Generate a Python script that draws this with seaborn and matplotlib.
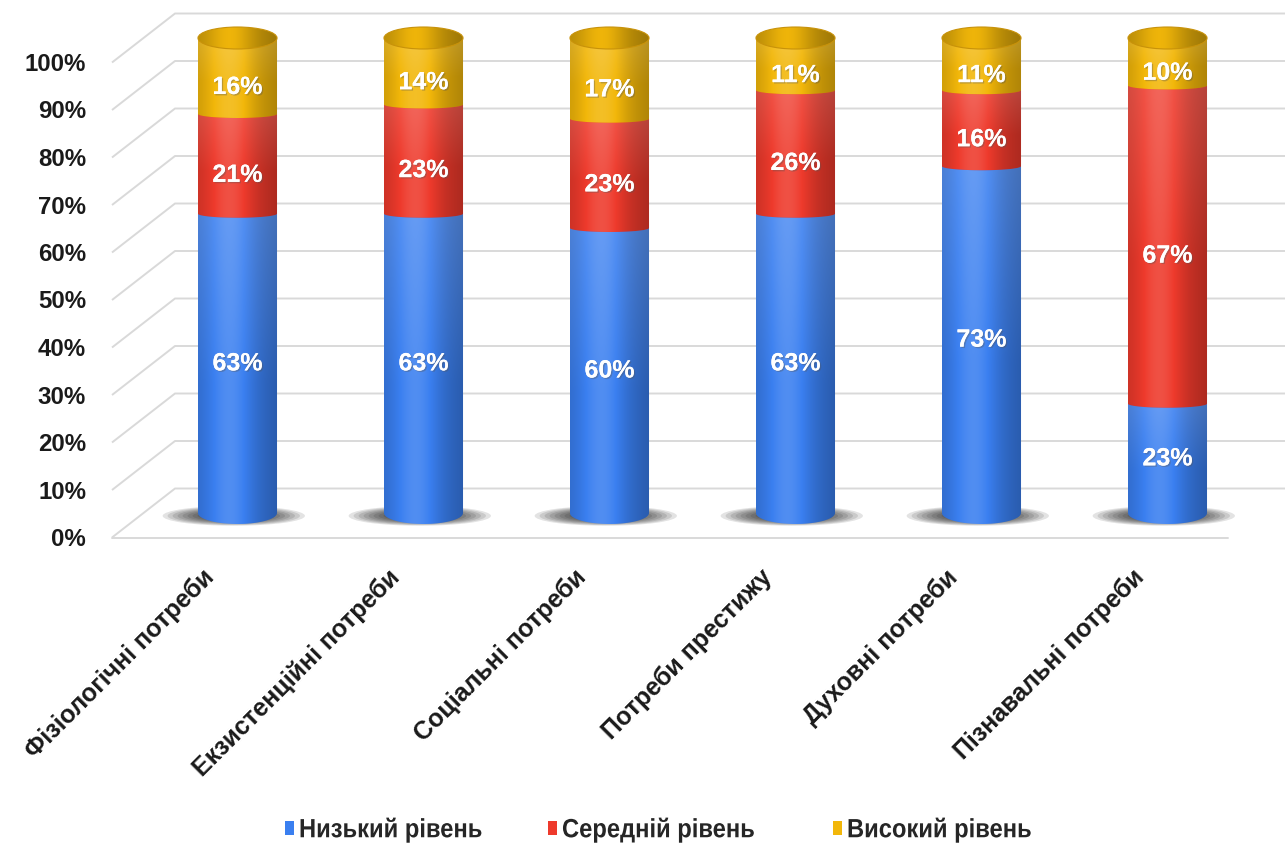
import numpy as np
import pandas as pd
import matplotlib
matplotlib.use("Agg")
import matplotlib.pyplot as plt
import seaborn as sns
from matplotlib.patches import PathPatch, Ellipse, Patch
from matplotlib.path import Path
from matplotlib.colors import to_rgb
from matplotlib.transforms import ScaledTranslation, Affine2D
import matplotlib.patheffects as pe

# ---- data -------------------------------------------------------------
categories = ["Фізіологічні потреби", "Екзистенційні потреби", "Соціальні потреби",
              "Потреби престижу", "Духовні потреби", "Пізнавальні потреби"]
low_level = [63, 63, 60, 63, 73, 23]
mid_level = [21, 23, 23, 26, 16, 67]
high_level = [16, 14, 17, 11, 11, 10]
series_names = ["Низький рівень", "Середній рівень", "Високий рівень"]
series_colors = ["#3a7ff0", "#ee3a2c", "#f2b70a"]
y_ticks = list(range(0, 101, 10))

sns.set_theme(style="white")
plt.rcParams["font.family"] = ["Liberation Sans", "DejaVu Sans"]

# ---- figure / axes layout (pixel based) ---------------------------------
W, H = 1285, 849
fig = plt.figure(figsize=(W / 100, H / 100), dpi=100)
px_left, px_right, px_top, px_bottom = 105, 1285, 0, 548
ax = fig.add_axes([px_left / W, 1 - px_bottom / H,
                   (px_right - px_left) / W, (px_bottom - px_top) / H])

x0_px, step_px = 237.5, 186.0      # first bar centre, bar spacing
base_px, unit_px = 513.0, 4.75     # pixel row of 0 %, pixels per 1 %
xlim = ((px_left - x0_px) / step_px, (px_right - x0_px) / step_px)
ylim = ((base_px - px_bottom) / unit_px, (base_px - px_top) / unit_px)

# 3-D depth of the floor / back wall
depth_x = 63 / step_px
depth_y = 49 / unit_px
half_dx, half_dy = depth_x / 2, depth_y / 2
front_left = (112 - x0_px) / step_px
front_right = (1228 - x0_px) / step_px
ry = 11 / unit_px                   # half height of the cap / base ellipses
ry_seam = 4 / unit_px               # curvature of the seams between segments

# ---- walls and floor ---------------------------------------------------
grid_col = "#d9d9d9"
for v in y_ticks:
    ax.plot([front_left, front_left + depth_x, xlim[1] + 1],
            [v - half_dy, v + half_dy, v + half_dy],
            color=grid_col, lw=1.4, zorder=0.5, solid_capstyle="butt")
ax.plot([front_left, front_right], [-half_dy, -half_dy],
        color=grid_col, lw=1.4, zorder=0.5)

# ---- stacked bars ------------------------------------------------------
df = pd.DataFrame({"category": categories, "low": low_level,
                   "mid": mid_level, "high": high_level})
df["c1"] = df["low"]
df["c2"] = df["low"] + df["mid"]
df["c3"] = df["c2"] + df["high"]
levels = ["c1", "c2", "c3"]
values = [low_level, mid_level, high_level]

level_patches = {}
for lev, col in zip(reversed(levels), reversed(series_colors)):
    n0 = len(ax.patches)
    sns.barplot(data=df, x="category", y=lev, order=categories, color=col,
                saturation=1, width=0.425, errorbar=None, edgecolor="none",
                ax=ax, zorder=1)
    level_patches[lev] = list(ax.patches[n0:])


def shade_image(color, n=240, rows=60, gain=1.0, top_light=0.12):
    """Cylinder lighting: horizontal highlight plus a lighter upper part."""
    t = np.linspace(0, 1, n)
    f = 0.82 + 0.28 * np.exp(-((t - 0.4) / 0.3) ** 2) - 0.1 * t ** 3
    f = f * gain
    base = np.array(to_rgb(color))
    rgb = np.where(f[:, None] <= 1, base[None, :] * f[:, None],
                   base[None, :] + (1 - base[None, :]) * (f[:, None] - 1) * 1.2)
    rgb = np.clip(rgb, 0, 1)
    v = np.linspace(0, 1, rows)
    lift = top_light * np.clip((v - 0.45) / 0.55, 0, 1)
    img = rgb[None, :, :] + (1 - rgb[None, :, :]) * lift[:, None, None]
    return np.clip(img, 0, 1)


def lower_arc(cx, a, y, r, reverse=False):
    th = np.linspace(np.pi, 2 * np.pi, 60)
    if reverse:
        th = th[::-1]
    return np.column_stack([cx + a * np.cos(th), y + r * np.sin(th)])


# soft shadows on the floor
for rect in level_patches["c3"]:
    cx = rect.get_x() + rect.get_width() / 2
    w = rect.get_width()
    for k in range(8):
        sc = 1 - k * 0.07
        ax.add_patch(Ellipse((cx - 0.02, -0.6), w * 1.8 * sc, 2 * ry * 0.9 * sc,
                             facecolor="black", edgecolor="none", alpha=0.11,
                             zorder=0.8))

for i, lev in enumerate(levels):
    for j, rect in enumerate(level_patches[lev]):
        x, w = rect.get_x(), rect.get_width()
        cx, a = x + w / 2, w / 2
        yt = rect.get_height()
        yb = 0 if i == 0 else level_patches[levels[i - 1]][j].get_height()
        rb = ry if i == 0 else ry_seam
        rt = ry if i == len(levels) - 1 else ry_seam
        verts = np.vstack([lower_arc(cx, a, yb, rb),
                           lower_arc(cx, a, yt, rt, reverse=True),
                           [[x, yb]]])
        codes = [Path.MOVETO] + [Path.LINETO] * (len(verts) - 2) + [Path.CLOSEPOLY]
        clip = PathPatch(Path(verts, codes), facecolor="none", edgecolor="none",
                         transform=ax.transData, zorder=2 + i)
        ax.add_patch(clip)
        im = ax.imshow(shade_image(series_colors[i]),
                       extent=[x, x + w, yb - rb - 0.3, yt + 0.3],
                       aspect="auto", interpolation="bilinear", zorder=2 + i,
                       origin="lower")
        im.set_clip_path(clip)

        # value label on the front face of the segment
        val = values[i][j]
        ymid = (yb + yt) / 2 - (ry if i > 0 else 0)
        ax.text(cx, ymid, f"{val}%", ha="center", va="center", color="white",
                fontsize=18, fontweight="bold", zorder=10,
                path_effects=[pe.withSimplePatchShadow(offset=(1, -1),
                                                       shadow_rgbFace="#555555",
                                                       alpha=0.35),
                              pe.Normal()])

        # cap on top of the cylinder
        if i == len(levels) - 1:
            cap = Ellipse((cx, yt), w, 2 * ry, facecolor="none", edgecolor="none",
                          transform=ax.transData, zorder=6)
            ax.add_patch(cap)
            cim = ax.imshow(shade_image(series_colors[i], gain=0.9, top_light=0.0),
                            extent=[x, x + w, yt - ry, yt + ry],
                            aspect="auto", interpolation="bilinear", zorder=6,
                            origin="lower")
            cim.set_clip_path(cap)
            ax.add_patch(Ellipse((cx, yt), w, 2 * ry, facecolor="none",
                                 edgecolor="#c8920a", lw=0.8, zorder=6.5))

# ---- axes cosmetics ------------------------------------------------------
ax.set_xlim(*xlim)
ax.set_ylim(*ylim)
ax.set_xticks([])
ax.set_yticks([])
ax.set_xlabel("")
ax.set_ylabel("")
for s in ax.spines.values():
    s.set_visible(False)
ax.patch.set_alpha(0)

# y labels sit at the front edge of each wall line
ytrans = ax.get_yaxis_transform() + ScaledTranslation(
    -0.19, -(half_dy * unit_px + 2) / 100, fig.dpi_scale_trans)
for v in y_ticks:
    ax.text(0, v, f"{v}%", transform=ytrans, ha="right", va="center",
            fontsize=17.3, fontweight="bold", color="#1a1a1a", clip_on=False)

# category labels, rotated under each bar
xtrans = ax.get_xaxis_transform() + ScaledTranslation(-0.36, -0.17, fig.dpi_scale_trans)
for j, cat in enumerate(categories):
    ax.text(j, 0, cat, transform=xtrans, rotation=45, rotation_mode="anchor",
            ha="right", va="top", fontsize=18, fontweight="bold",
            color="#1a1a1a", clip_on=False)


class Condense(pe.AbstractPathEffect):
    """Narrow the glyphs horizontally about the text origin."""

    def __init__(self, sx):
        super().__init__()
        self.sx = sx

    def draw_path(self, renderer, gc, tpath, affine, rgbFace=None):
        renderer.draw_path(gc, tpath, Affine2D().scale(self.sx, 1) + affine, rgbFace)


# legend: one entry per series, laid out along the bottom
legend_x = [285, 548, 833]
for name, col, lx in zip(series_names, series_colors, legend_x):
    leg = fig.legend(handles=[Patch(facecolor=col, edgecolor="none", label=name)],
                     loc="center left", bbox_to_anchor=(lx / W, 1 - 830 / H),
                     frameon=False, handlelength=0.35, handleheight=0.48,
                     handletextpad=0.18, borderpad=0, borderaxespad=0,
                     prop=dict(weight="bold", size=19))
    for t in leg.get_texts():
        t.set_path_effects([Condense(0.9)])

fig.savefig("out.png", dpi=100)
